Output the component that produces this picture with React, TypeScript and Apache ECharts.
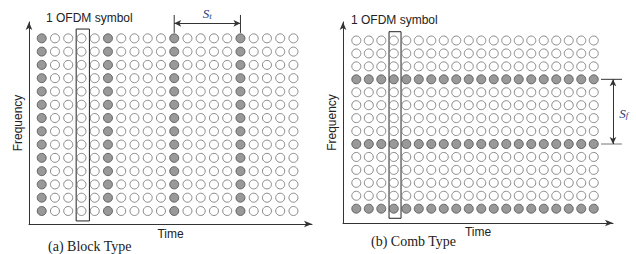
import React, { useEffect, useRef } from "react";
import * as echarts from "echarts";

// Grid structure: OFDM symbols (time) and subcarriers (frequency)
const timeSlots = [0, 1, 2, 3, 4, 5, 6, 7, 8, 9, 10, 11, 12, 13, 14, 15, 16, 17, 18, 19];
const subcarriers = [0, 1, 2, 3, 4, 5, 6, 7, 8, 9, 10, 11, 12, 13]; // 0 = bottom
// Block type: pilots on every subcarrier in these OFDM symbols
const blockPilotSymbols = [0, 5, 10, 15];
// Comb type: pilots on these subcarriers (counted from bottom) in every OFDM symbol
const combPilotRows = [0, 5, 10];
// Highlighted OFDM symbol
const highlightedSymbol = 3;
// Texts
const symbolLabel = "1 OFDM symbol";
const captions = ["(a) Block Type", "(b) Comb Type"];
const axisNames = { x: "Time", y: "Frequency" };

const FILLED = { color: "#808080", borderColor: "#4d4d4d", borderWidth: 1 };
const EMPTY = { color: "#ffffff", borderColor: "#6e6e6e", borderWidth: 1 };

function buildPoints(isPilot: (t: number, f: number) => boolean) {
  const pilots: number[][] = [];
  const data: number[][] = [];
  for (const f of subcarriers) {
    for (const t of timeSlots) {
      (isPilot(t, f) ? pilots : data).push([t, f]);
    }
  }
  return { pilots, data };
}

export default function App() {
  const ref = useRef<HTMLDivElement>(null);
  useEffect(() => {
    if (!ref.current) return;
    const chart = echarts.init(ref.current, undefined, { renderer: "svg" });
    const block = buildPoints((t) => blockPilotSymbols.includes(t));
    const comb = buildPoints((_t, f) => combPilotRows.includes(f));

    const axisLine = {
      show: true,
      onZero: false,
      symbol: ["none", "arrow"],
      symbolSize: [5, 8],
      lineStyle: { color: "#333", width: 1 },
    };
    const axisCommon = {
      type: "value" as const,
      axisTick: { show: false },
      axisLabel: { show: false },
      splitLine: { show: false },
      axisLine,
      nameTextStyle: { fontFamily: "Liberation Sans", fontSize: 12, color: "#222" },
    };
    const boxArea = (x0: number, x1: number, y0: number, y1: number) => ({
      silent: true,
      itemStyle: { color: "rgba(0,0,0,0)", borderColor: "#222", borderWidth: 1 },
      label: { show: false },
      data: [[{ coord: [x0, y1] }, { coord: [x1, y0] }]],
    });
    const titleStyle = (serif: boolean, size: number) => ({
      fontSize: size,
      fontWeight: "normal",
      color: "#222",
      fontFamily: serif ? "Liberation Serif" : "Liberation Sans",
    });

    chart.setOption({
      animation: false,
      textStyle: { fontFamily: "Liberation Sans" },
      title: [
        { text: symbolLabel, left: 46, top: 12, padding: 0, textStyle: titleStyle(false, 12) },
        { text: symbolLabel, left: 351, top: 14, padding: 0, textStyle: titleStyle(false, 12) },
        { text: captions[0], left: 48, top: 239, padding: 0, textStyle: titleStyle(true, 14) },
        { text: captions[1], left: 371, top: 234, padding: 0, textStyle: titleStyle(true, 14) },
      ],
      grid: [
        { left: 29, top: 22, width: 283, height: 202 },
        { left: 343, top: 22, width: 270, height: 201 },
      ],
      xAxis: [
        { ...axisCommon, gridIndex: 0, min: -0.96, max: 20.4, name: axisNames.x, nameLocation: "middle", nameGap: 4 },
        { ...axisCommon, gridIndex: 1, min: -1.064, max: 20.54, name: axisNames.x, nameLocation: "middle", nameGap: 3 },
      ],
      yAxis: [
        { ...axisCommon, gridIndex: 0, min: -0.98, max: 14.23, name: axisNames.y, nameLocation: "middle", nameGap: 5, nameRotate: 90 },
        { ...axisCommon, gridIndex: 1, min: -1.105, max: 14.43, name: axisNames.y, nameLocation: "middle", nameGap: 5, nameRotate: 90 },
      ],
      series: [
        {
          type: "scatter", xAxisIndex: 0, yAxisIndex: 0, clip: false, silent: true,
          symbolSize: 9, itemStyle: EMPTY, data: block.data,
          markArea: boxArea(highlightedSymbol - 0.4, highlightedSymbol + 0.6, -0.75, 13.7),
        },
        {
          type: "scatter", xAxisIndex: 0, yAxisIndex: 0, clip: false, silent: true,
          symbolSize: 9, itemStyle: FILLED, data: block.pilots,
          markLine: {
            silent: true,
            symbol: ["none", "none"],
            label: { show: false },
            lineStyle: { color: "#333", width: 1, type: "solid" },
            data: [
              [
                { coord: [blockPilotSymbols[2], 14.13], symbol: "arrow", symbolSize: [5, 7] },
                { coord: [blockPilotSymbols[3], 14.13], symbol: "arrow", symbolSize: [5, 7] },
              ],
            ],
          },
        },
        {
          type: "scatter", xAxisIndex: 1, yAxisIndex: 1, clip: false, silent: true,
          symbolSize: 9, itemStyle: EMPTY, data: comb.data,
          markArea: boxArea(highlightedSymbol - 0.38, highlightedSymbol + 0.58, -0.74, 13.68),
        },
        {
          type: "scatter", xAxisIndex: 1, yAxisIndex: 1, clip: false, silent: true,
          symbolSize: 9, itemStyle: FILLED, data: comb.pilots,
          markLine: {
            silent: true,
            symbol: ["none", "none"],
            label: { show: false },
            lineStyle: { color: "#333", width: 1, type: "solid" },
            data: [
              [
                { coord: [20.54, combPilotRows[2]], symbol: "arrow", symbolSize: [5, 7] },
                { coord: [20.54, combPilotRows[1]], symbol: "arrow", symbolSize: [5, 7] },
              ],
            ],
          },
        },
      ],
    });

    // Annotations (extension lines and spacing labels), positioned through the axes' scales
    const px = (g: number, x: number, y: number) => chart.convertToPixel({ gridIndex: g }, [x, y]) as number[];
    const seg = (a: number[], b: number[], color = "#333") => ({
      type: "line",
      silent: true,
      shape: { x1: a[0], y1: a[1], x2: b[0], y2: b[1] },
      style: { stroke: color, lineWidth: 1 },
    });
    const rich = {
      s: { fontFamily: "Liberation Serif", fontStyle: "italic", fontSize: 13, fill: "#2b3a7a", lineHeight: 16, verticalAlign: "bottom" },
      t: { fontFamily: "Liberation Serif", fontStyle: "italic", fontSize: 9, fill: "#2b3a7a", lineHeight: 11, verticalAlign: "bottom" },
    };
    const label = (p: number[], sub: string) => ({
      type: "text",
      silent: true,
      x: p[0],
      y: p[1],
      style: { text: `{s|S}{t|${sub}}`, rich, align: "center", verticalAlign: "middle" },
    });
    const c10 = blockPilotSymbols[2];
    const c15 = blockPilotSymbols[3];
    const r5 = combPilotRows[1];
    const r10 = combPilotRows[2];
    chart.setOption({
      graphic: [
        seg(px(0, c10, 14.76), px(0, c10, 13.41)),
        seg(px(0, c15, 14.76), px(0, c15, 13.41)),
        label(px(0, (c10 + c15) / 2, 14.95), "t"),
        seg(px(1, 19.58, r10), px(1, 21.26, r10)),
        seg(px(1, 19.58, r5), px(1, 21.26, r5), "#777"),
        label(px(1, 21.4, (r5 + r10) / 2), "f"),
      ],
    });
    return () => chart.dispose();
  }, []);
  return <div ref={ref} style={{ position: "fixed", left: 0, top: 0, width: 636, height: 254, background: "#fff" }} />;
}
